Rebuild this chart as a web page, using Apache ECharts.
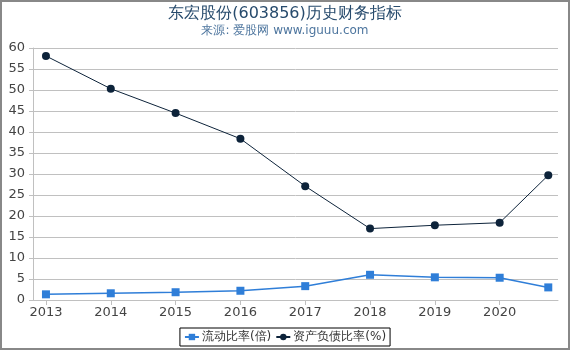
<!DOCTYPE html>
<html>
<head>
<meta charset="utf-8">
<script src="https://cdn.jsdelivr.net/npm/echarts@6/dist/echarts.min.js"></script>
<style>
html, body { margin: 0; padding: 0; background: #fff; }
#wrap { position: relative; width: 570px; height: 350px; }
#box { width: 570px; height: 350px; }
#frame { position: absolute; left: 0; top: 0; width: 570px; height: 350px; box-sizing: border-box; border: 2px solid #888; pointer-events: none; }
</style>
</head>
<body>
<div id="wrap"><div id="box"></div><div id="frame"></div></div>
<script>
// 报告期 (年份, 最后一个为 2020 三季度)
var periods = [2013, 2014, 2015, 2016, 2017, 2018, 2019, 2020, 2020.75];
var yearLabels = [2013, 2014, 2015, 2016, 2017, 2018, 2019, 2020];
var currentRatio = [1.35, 1.6, 1.85, 2.2, 3.3, 6.0, 5.4, 5.3, 3.0];
var debtRatio = [58.1, 50.3, 44.5, 38.4, 27.1, 17.0, 17.8, 18.4, 29.7];

function pairs(vals) {
	return periods.map(function (p, i) { return [p, vals[i]]; });
}

var chart = echarts.init(document.getElementById('box'));

var font = 'DejaVu Sans, sans-serif';

var option = {
	animation: false,
	textStyle: { fontFamily: font },
	title: {
		text: '东宏股份(603856)历史财务指标',
		subtext: '来源: 爱股网 www.iguuu.com',
		left: 'center',
		top: 1,
		itemGap: 3,
		textStyle: { fontSize: 16, fontWeight: 'normal', color: '#274b6d', fontFamily: font },
		subtextStyle: { fontSize: 12, color: '#4d759e', fontFamily: font }
	},
	legend: {
		bottom: 4,
		left: 'center',
		borderColor: '#000',
		borderWidth: 1,
		borderRadius: 0,
		padding: [3, 4],
		itemGap: 4,
		itemWidth: 14,
		itemHeight: 8,
		textStyle: { fontSize: 12, color: '#333', fontFamily: font, padding: [0, 0, 0, -2] },
		data: ['流动比率(倍)', '资产负债比率(%)']
	},
	grid: { left: 33, right: 12, top: 48, bottom: 50 },
	xAxis: {
		type: 'value',
		min: 2012.8,
		max: 2020.9,
		splitLine: { show: false },
		axisLine: { lineStyle: { color: '#c0c0c0' } },
		axisTick: { show: true, length: 5, lineStyle: { color: '#c0c0c0' }, customValues: yearLabels },
		axisLabel: { customValues: yearLabels, color: '#444', fontSize: 13, margin: 6, formatter: function (v) { return String(v); } }
	},
	yAxis: {
		type: 'value',
		min: 0,
		max: 60,
		interval: 5,
		axisLine: { show: true, lineStyle: { color: '#c0c0c0' } },
		axisTick: { show: true, length: 4, lineStyle: { color: '#c0c0c0' } },
		splitLine: { lineStyle: { color: '#c0c0c0' } },
		axisLabel: { color: '#444', fontSize: 13, margin: 8 }
	},
	series: [
		{
			name: '流动比率(倍)',
			type: 'line',
			data: pairs(currentRatio),
			symbol: 'rect',
			symbolSize: 8,
			itemStyle: { color: '#2f7ed8' },
			lineStyle: { width: 1.5, color: '#2f7ed8' }
		},
		{
			name: '资产负债比率(%)',
			type: 'line',
			data: pairs(debtRatio),
			symbol: 'circle',
			symbolSize: 8,
			itemStyle: { color: '#0d233a' },
			lineStyle: { width: 1, color: '#0d233a' }
		}
	]
};

chart.setOption(option);
</script>
</body>
</html>
